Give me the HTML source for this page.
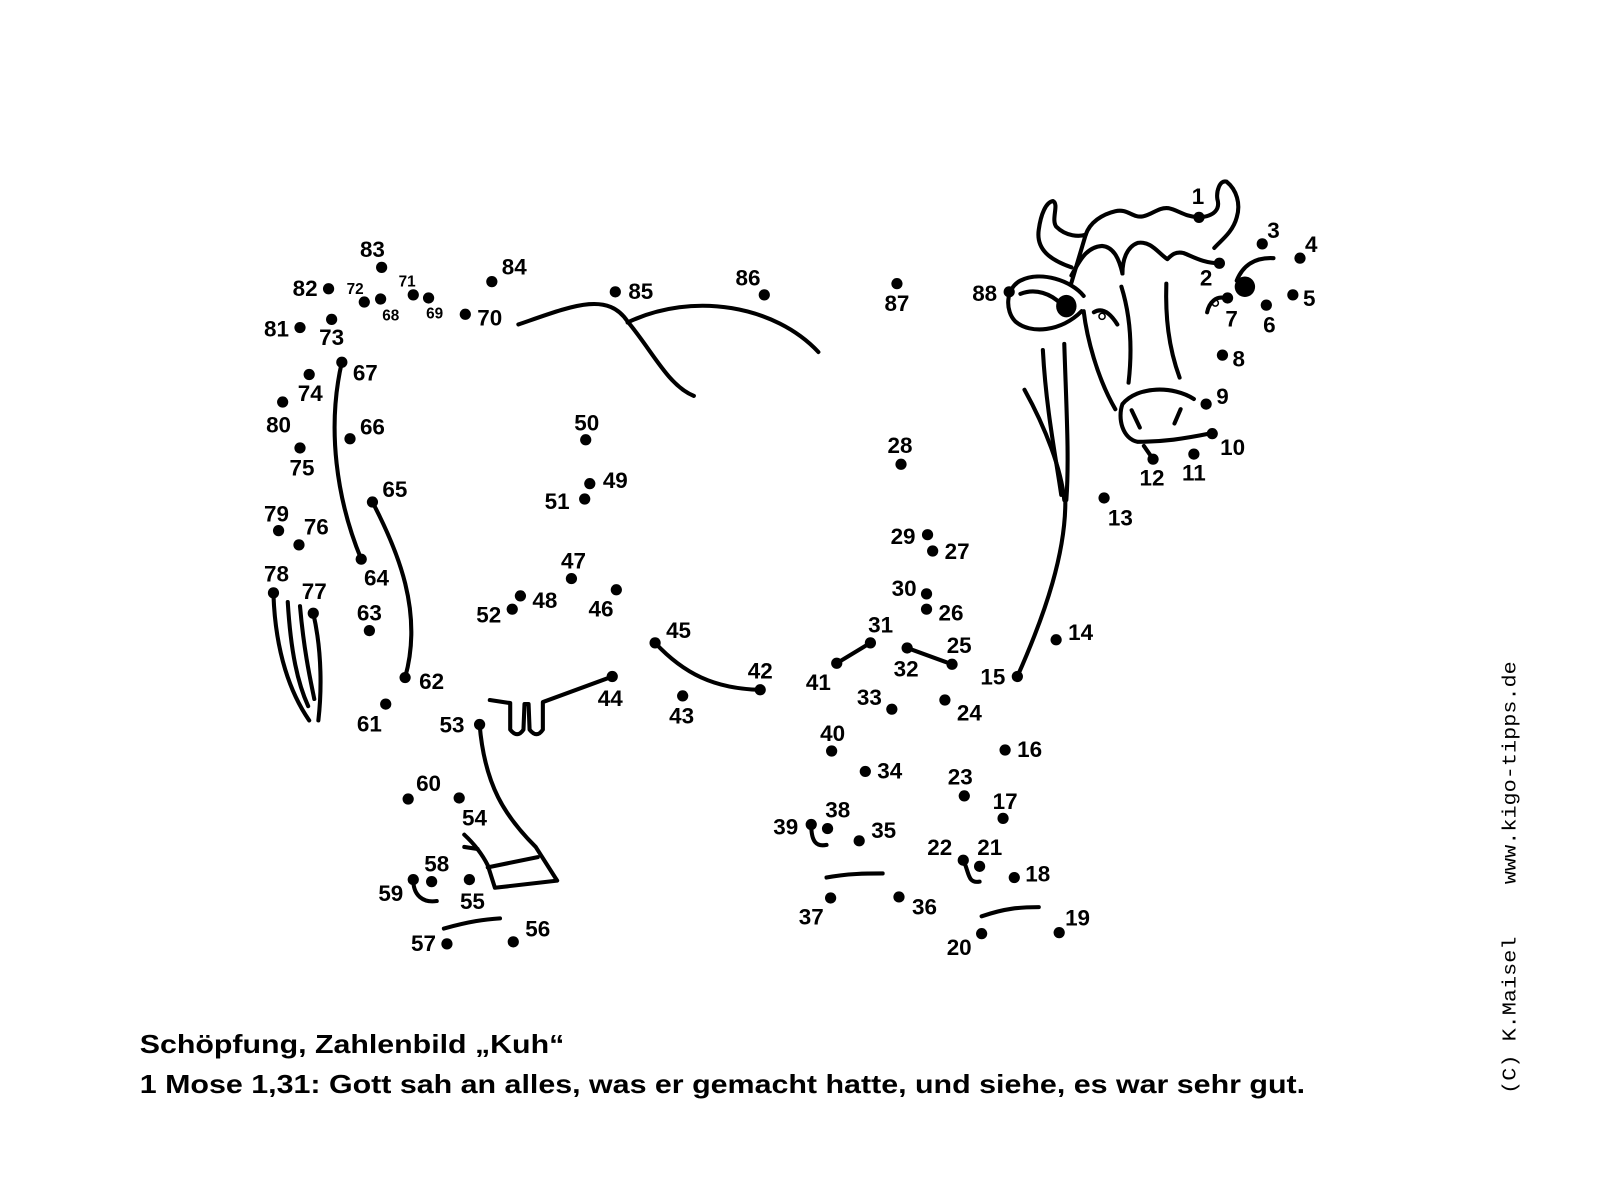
<!DOCTYPE html>
<html><head><meta charset="utf-8"><style>
html,body{margin:0;padding:0;background:#fff;}
svg{display:block}
.l{font-family:"Liberation Sans",sans-serif;font-weight:bold;font-size:22px;text-anchor:middle;fill:#000}
.s{font-size:15px}
path,line{fill:none;stroke:#000;stroke-width:4;stroke-linecap:round;stroke-linejoin:round}
</style></head><body>
<svg width="1600" height="1200" viewBox="0 0 1568 1176" xmlns="http://www.w3.org/2000/svg">
<rect width="1568" height="1176" fill="#fff"/>
<!-- lines -->
<path d="M508,318 C560,300 595,285 615,315 C640,345 655,378 680,388"/>
<path d="M615,316 C680,285 760,300 802,345"/>
<!-- head -->
<path d="M1050,262 C1030,255 1015,245 1018,225 C1020,210 1025,198 1032,197 C1038,200 1030,215 1035,222 C1045,232 1058,232 1064,230"/>
<path d="M1064,230 C1068,218 1080,210 1093,207 C1105,204 1110,214 1120,212 C1130,210 1135,203 1145,204 C1155,206 1160,212 1175,213 C1190,212 1196,205 1193,195 C1192,188 1195,176 1202,178 C1212,186 1216,200 1212,213 C1208,228 1196,236 1190,243"/>
<path d="M1050,277 L1064,230"/>
<path d="M1050,270 C1058,255 1065,242 1080,241 C1092,242 1097,255 1100,268"/>
<path d="M1100,268 C1100,255 1104,242 1115,238 C1128,236 1135,248 1144,254 C1148,250 1152,246 1160,248 C1170,252 1180,258 1195,258"/>
<path d="M1062,290 C1050,275 1020,265 1000,275 C985,283 985,305 995,315 C1010,328 1040,325 1060,305"/>
<path d="M1000,288 C1015,282 1030,288 1040,298"/>
<ellipse cx="1045" cy="300" rx="10" ry="11" fill="#000"/>
<path d="M1062,305 C1065,330 1075,370 1093,401"/>
<path d="M1072,306 C1082,300 1090,310 1095,318"/>
<circle cx="1080" cy="310" r="3" fill="none" stroke="#000" stroke-width="1.5"/>
<path d="M1099,281 C1108,310 1110,340 1106,375"/>
<path d="M1143,278 C1142,310 1145,340 1156,370"/>
<path d="M1170,391 C1150,378 1115,378 1100,396 C1095,410 1100,430 1115,433 C1140,433 1160,430 1185,425"/>
<path d="M1109,402 L1117,419"/>
<path d="M1157,401 L1151,415"/>
<path d="M1121,437 L1130,450"/>
<path d="M1248,253 C1230,252 1218,260 1212,275"/>
<ellipse cx="1220" cy="281" rx="10" ry="10" fill="#000"/>
<path d="M1200,292 C1192,290 1185,296 1183,306"/>
<circle cx="1191" cy="297" r="3" fill="none" stroke="#000" stroke-width="1.5"/>
<!-- neck -->
<path d="M1022,343 C1025,400 1035,450 1040,485"/>
<path d="M1043,337 C1045,400 1048,450 1045,490"/>
<path d="M1004,382 C1025,420 1040,460 1043,490"/>
<path d="M1044,488 C1045,540 1025,600 997,663"/>
<!-- body left -->
<path d="M365,492 C390,540 415,600 397,664"/>
<path d="M335,355 C320,420 330,490 354,548"/>
<path d="M268,583 C270,640 285,680 303,706"/>
<path d="M282,590 C285,640 292,670 302,692"/>
<path d="M294,594 C298,640 305,670 308,685"/>
<path d="M307,601 C316,640 315,680 312,706"/>
<path d="M480,686 L500,689 L500,715 Q507,724 513,715 L514,690 L518,690 L519,715 Q526,724 532,715 L532,688 L600,663"/>
<path d="M470,710 C475,770 495,800 525,830 L546,863 L485,870 L478,848 Q470,832 455,818"/>
<path d="M478,850 L527,840"/>
<path d="M455,830 L468,832"/>
<path d="M435,910 C460,903 475,901 490,900"/>
<path d="M405,862 C405,878 415,885 428,883"/>
<path d="M642,630 C670,660 700,675 745,676"/>
<path d="M820,650 L853,630"/>
<path d="M889,635 L933,651"/>
<path d="M795,808 C795,825 800,830 810,828"/>
<path d="M810,860 C830,856 850,856 865,856"/>
<path d="M944,843 C950,855 948,866 960,864"/>
<path d="M962,898 C985,890 1000,889 1018,889"/>
<!-- dots -->
<g fill="#000">
<circle cx="1175" cy="213" r="5.5"/><circle cx="1195" cy="258" r="5.5"/><circle cx="1237" cy="239" r="5.5"/><circle cx="1274" cy="253" r="5.5"/><circle cx="1267" cy="289" r="5.5"/><circle cx="1241" cy="299" r="5.5"/><circle cx="1203" cy="292" r="5.5"/><circle cx="1198" cy="348" r="5.5"/><circle cx="1182" cy="396" r="5.5"/><circle cx="1188" cy="425" r="5.5"/><circle cx="1170" cy="445" r="5.5"/><circle cx="1130" cy="450" r="5.5"/><circle cx="1082" cy="488" r="5.5"/><circle cx="1035" cy="627" r="5.5"/><circle cx="997" cy="663" r="5.5"/><circle cx="985" cy="735" r="5.5"/><circle cx="983" cy="802" r="5.5"/><circle cx="994" cy="860" r="5.5"/><circle cx="1038" cy="914" r="5.5"/><circle cx="962" cy="915" r="5.5"/><circle cx="960" cy="849" r="5.5"/><circle cx="944" cy="843" r="5.5"/><circle cx="945" cy="780" r="5.5"/><circle cx="926" cy="686" r="5.5"/><circle cx="933" cy="651" r="5.5"/><circle cx="908" cy="597" r="5.5"/><circle cx="914" cy="540" r="5.5"/><circle cx="883" cy="455" r="5.5"/><circle cx="909" cy="524" r="5.5"/><circle cx="908" cy="582" r="5.5"/><circle cx="853" cy="630" r="5.5"/><circle cx="889" cy="635" r="5.5"/><circle cx="874" cy="695" r="5.5"/><circle cx="848" cy="756" r="5.5"/><circle cx="842" cy="824" r="5.5"/><circle cx="881" cy="879" r="5.5"/><circle cx="814" cy="880" r="5.5"/><circle cx="811" cy="812" r="5.5"/><circle cx="795" cy="808" r="5.5"/><circle cx="815" cy="736" r="5.5"/><circle cx="820" cy="650" r="5.5"/><circle cx="745" cy="676" r="5.5"/><circle cx="669" cy="682" r="5.5"/><circle cx="600" cy="663" r="5.5"/><circle cx="642" cy="630" r="5.5"/><circle cx="604" cy="578" r="5.5"/><circle cx="560" cy="567" r="5.5"/><circle cx="510" cy="584" r="5.5"/><circle cx="578" cy="474" r="5.5"/><circle cx="574" cy="431" r="5.5"/><circle cx="573" cy="489" r="5.5"/><circle cx="502" cy="597" r="5.5"/><circle cx="470" cy="710" r="5.5"/><circle cx="450" cy="782" r="5.5"/><circle cx="460" cy="862" r="5.5"/><circle cx="503" cy="923" r="5.5"/><circle cx="438" cy="925" r="5.5"/><circle cx="423" cy="864" r="5.5"/><circle cx="405" cy="862" r="5.5"/><circle cx="400" cy="783" r="5.5"/><circle cx="378" cy="690" r="5.5"/><circle cx="397" cy="664" r="5.5"/><circle cx="362" cy="618" r="5.5"/><circle cx="354" cy="548" r="5.5"/><circle cx="365" cy="492" r="5.5"/><circle cx="343" cy="430" r="5.5"/><circle cx="335" cy="355" r="5.5"/><circle cx="373" cy="293" r="5.5"/><circle cx="420" cy="292" r="5.5"/><circle cx="456" cy="308" r="5.5"/><circle cx="405" cy="289" r="5.5"/><circle cx="357" cy="296" r="5.5"/><circle cx="325" cy="313" r="5.5"/><circle cx="303" cy="367" r="5.5"/><circle cx="294" cy="439" r="5.5"/><circle cx="293" cy="534" r="5.5"/><circle cx="307" cy="601" r="5.5"/><circle cx="268" cy="581" r="5.5"/><circle cx="273" cy="520" r="5.5"/><circle cx="277" cy="394" r="5.5"/><circle cx="294" cy="321" r="5.5"/><circle cx="322" cy="283" r="5.5"/><circle cx="374" cy="262" r="5.5"/><circle cx="482" cy="276" r="5.5"/><circle cx="603" cy="286" r="5.5"/><circle cx="749" cy="289" r="5.5"/><circle cx="879" cy="278" r="5.5"/><circle cx="989" cy="286" r="5.5"/>
</g>
<!-- labels -->
<g class="l">
<text x="1174" y="200">1</text><text x="1182" y="280">2</text><text x="1248" y="233">3</text><text x="1285" y="247">4</text><text x="1283" y="300">5</text><text x="1244" y="326">6</text><text x="1207" y="320">7</text><text x="1214" y="359">8</text><text x="1198" y="396">9</text><text x="1208" y="446">10</text><text x="1170" y="471">11</text><text x="1129" y="476">12</text><text x="1098" y="515">13</text><text x="1059" y="627">14</text><text x="973" y="671">15</text><text x="1009" y="742">16</text><text x="985" y="793">17</text><text x="1017" y="864">18</text><text x="1056" y="907">19</text><text x="940" y="936">20</text><text x="970" y="838">21</text><text x="921" y="838">22</text><text x="941" y="769">23</text><text x="950" y="706">24</text><text x="940" y="640">25</text><text x="932" y="608">26</text><text x="938" y="548">27</text><text x="882" y="444">28</text><text x="885" y="533">29</text><text x="886" y="584">30</text><text x="863" y="620">31</text><text x="888" y="663">32</text><text x="852" y="691">33</text><text x="872" y="763">34</text><text x="866" y="821">35</text><text x="906" y="896">36</text><text x="795" y="906">37</text><text x="821" y="801">38</text><text x="770" y="818">39</text><text x="816" y="726">40</text><text x="802" y="676">41</text><text x="745" y="665">42</text><text x="668" y="709">43</text><text x="598" y="692">44</text><text x="665" y="625">45</text><text x="589" y="604">46</text><text x="562" y="557">47</text><text x="534" y="596">48</text><text x="603" y="478">49</text><text x="575" y="422">50</text><text x="546" y="499">51</text><text x="479" y="610">52</text><text x="443" y="718">53</text><text x="465" y="809">54</text><text x="463" y="891">55</text><text x="527" y="918">56</text><text x="415" y="932">57</text><text x="428" y="854">58</text><text x="383" y="883">59</text><text x="420" y="775">60</text><text x="362" y="717">61</text><text x="423" y="675">62</text><text x="362" y="608">63</text><text x="369" y="574">64</text><text x="387" y="487">65</text><text x="365" y="426">66</text><text x="358" y="373">67</text><text x="480" y="319">70</text><text x="325" y="338">73</text><text x="304" y="393">74</text><text x="296" y="466">75</text><text x="310" y="524">76</text><text x="308" y="587">77</text><text x="271" y="570">78</text><text x="271" y="511">79</text><text x="273" y="424">80</text><text x="271" y="330">81</text><text x="299" y="290">82</text><text x="365" y="252">83</text><text x="504" y="269">84</text><text x="628" y="293">85</text><text x="733" y="280">86</text><text x="879" y="305">87</text><text x="965" y="295">88</text>
<text class="s" x="383" y="314">68</text><text class="s" x="426" y="312">69</text><text class="s" x="399" y="281">71</text><text class="s" x="348" y="288">72</text>
</g>
<text x="137" y="1032" font-family="Liberation Sans,sans-serif" font-weight="bold" font-size="25" textLength="416" lengthAdjust="spacingAndGlyphs">Schöpfung, Zahlenbild „Kuh“</text>
<text x="137" y="1071" font-family="Liberation Sans,sans-serif" font-weight="bold" font-size="25" textLength="1142" lengthAdjust="spacingAndGlyphs">1 Mose 1,31: Gott sah an alles, was er gemacht hatte, und siehe, es war sehr gut.</text>
<text transform="translate(1485,1072) rotate(-90)" font-family="Liberation Mono,monospace" font-size="19" textLength="424" lengthAdjust="spacingAndGlyphs" xml:space="preserve">(C) K.Maisel    www.kigo-tipps.de</text>
</svg>
</body></html>
